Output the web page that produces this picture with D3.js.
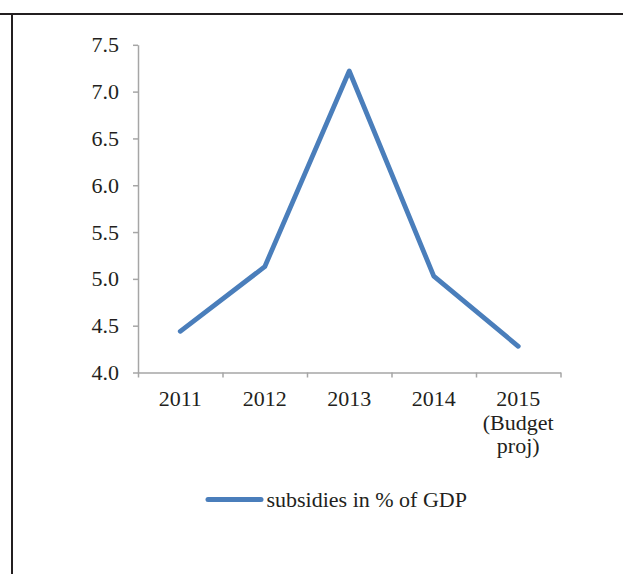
<!DOCTYPE html>
<html>
<head>
<meta charset="utf-8">
<script src="https://cdn.jsdelivr.net/npm/d3@7"></script>
<style>
  html, body { margin: 0; padding: 0; background: #fff; }
  svg { display: block; }
  text { font-family: "Liberation Serif", "Times New Roman", serif; fill: #231f20; }
</style>
</head>
<body>
<svg id="chart" width="623" height="574"></svg>
<script>
// Subsidies as a share of GDP, by year
const years = ["2011", "2012", "2013", "2014", "2015"];
const yearLabels = [["2011"], ["2012"], ["2013"], ["2014"], ["2015", "(Budget", "proj)"]];
const subsidies = [4.44, 5.13, 7.22, 5.03, 4.28];
const yTicks = [4.0, 4.5, 5.0, 5.5, 6.0, 6.5, 7.0, 7.5];
const seriesName = "subsidies in % of GDP";

const svg = d3.select("#chart");
const plot = { left: 138, right: 560.5, top: 44.8, bottom: 372.5 };
const axisColor = "#a6a6a6";
const lineColor = "#4a7ebb";
const fontSize = 22;

// frame lines along the top and left edge
svg.append("line").attr("x1", 0).attr("x2", 623).attr("y1", 14).attr("y2", 14)
  .attr("stroke", "#231f20").attr("stroke-width", 2);
svg.append("line").attr("x1", 12).attr("x2", 12).attr("y1", 13).attr("y2", 574)
  .attr("stroke", "#231f20").attr("stroke-width", 2);

const x = d3.scaleBand().domain(years).range([plot.left, plot.right]).padding(0);
const y = d3.scaleLinear().domain([4, 7.5]).range([plot.bottom, plot.top]);

// y axis
const yAxis = svg.append("g")
  .attr("transform", `translate(${plot.left},0)`)
  .call(d3.axisLeft(y).tickValues(yTicks).tickFormat(d3.format(".1f"))
    .tickSize(5).tickSizeOuter(0).tickPadding(14));
yAxis.select(".domain").attr("stroke", axisColor).attr("stroke-width", 1.5);
yAxis.selectAll(".tick line").attr("stroke", axisColor).attr("stroke-width", 1.5);
yAxis.selectAll(".tick text").attr("font-size", fontSize).attr("fill", "#231f20")
  .attr("font-family", "Liberation Serif, Times New Roman, serif");

// x axis: tick marks on category boundaries
const xEdge = d3.scaleLinear().domain([0, years.length]).range([plot.left, plot.right]);
const xAxis = svg.append("g")
  .attr("transform", `translate(0,${plot.bottom})`)
  .call(d3.axisBottom(xEdge).tickValues(d3.range(0, years.length + 1))
    .tickFormat("").tickSize(5).tickSizeOuter(0));
xAxis.select(".domain").attr("stroke", axisColor).attr("stroke-width", 1.5);
xAxis.selectAll(".tick line").attr("stroke", axisColor).attr("stroke-width", 1.5);

// category labels, possibly on several lines
const labels = svg.append("g").selectAll("text")
  .data(years)
  .join("text")
  .attr("x", d => x(d) + x.bandwidth() / 2)
  .attr("y", 406)
  .attr("text-anchor", "middle")
  .attr("font-size", fontSize);
labels.selectAll("tspan")
  .data((d, i) => yearLabels[i])
  .join("tspan")
  .attr("x", function () { return d3.select(this.parentNode).attr("x"); })
  .attr("dy", (d, i) => i === 0 ? 0 : 23.5)
  .text(d => d);

// the series line
const line = d3.line()
  .x((d, i) => x(years[i]) + x.bandwidth() / 2)
  .y(d => y(d));
svg.append("path")
  .datum(subsidies)
  .attr("d", line)
  .attr("fill", "none")
  .attr("stroke", lineColor)
  .attr("stroke-width", 4.8)
  .attr("stroke-linejoin", "round")
  .attr("stroke-linecap", "round");

// legend
const legend = svg.append("g").attr("transform", "translate(0,499.5)");
legend.append("line").attr("x1", 208).attr("x2", 261).attr("y1", 0).attr("y2", 0)
  .attr("stroke", lineColor).attr("stroke-width", 5).attr("stroke-linecap", "round");
legend.append("text").attr("x", 266.5).attr("y", 7).attr("font-size", fontSize).text(seriesName);
</script>
</body>
</html>
